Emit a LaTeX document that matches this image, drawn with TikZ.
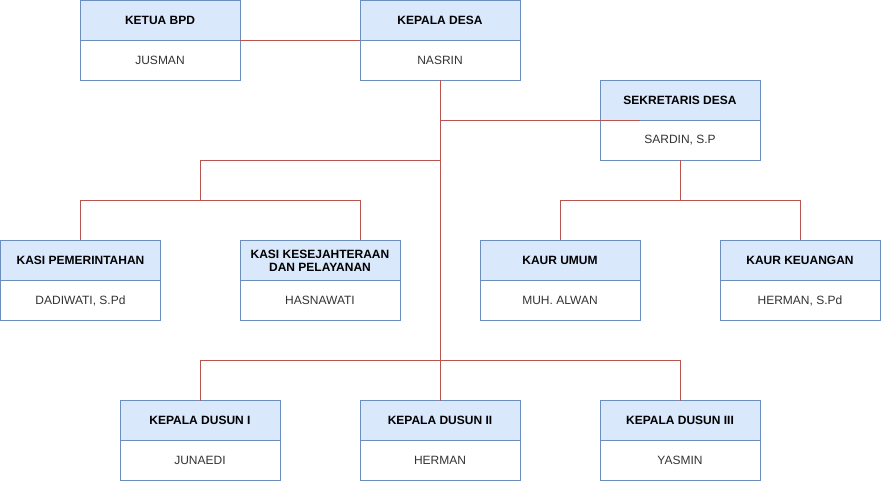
\documentclass[tikz,border=0pt]{standalone}
\usepackage{fontspec}
\setmainfont{Liberation Sans}
\usetikzlibrary{positioning, calc}

\definecolor{headfill}{HTML}{DAE8FC}
\definecolor{headline}{HTML}{6C8EBF}
\definecolor{linkred}{HTML}{B85450}
\definecolor{nametext}{HTML}{333333}

\tikzset{
    head/.style={draw=headline, fill=headfill, line width=1pt, minimum width=160pt, minimum height=40pt,
        inner sep=0pt, outer sep=0pt, align=center, font=\fontsize{12}{13}\selectfont\bfseries},
    body/.style={draw=headline, fill=white, line width=1pt, minimum width=160pt, minimum height=40pt,
        inner sep=0pt, outer sep=0pt, text=nametext, font=\fontsize{12}{13}\selectfont},
    link/.style={draw=linkred, line width=1pt},
}

\begin{document}
\begin{tikzpicture}[x=1pt, y=-1pt]
    \useasboundingbox (0, 0) rectangle (881, 481);

    % top row
    \node [head] (bpd) at (160, 20.5) {KETUA BPD};
    \node [body, below=0pt of bpd] (bpd-b) {JUSMAN};
    \node [head] (desa) at (440, 20.5) {KEPALA DESA};
    \node [body, below=0pt of desa] (desa-b) {NASRIN};
    \node [head] (sek) at (680, 100.5) {SEKRETARIS DESA};
    \node [body, below=0pt of sek] (sek-b) {SARDIN, S.P};

    % kasi dan kaur
    \node [head] (kasi1) at (80.5, 260.5) {KASI PEMERINTAHAN};
    \node [body, below=0pt of kasi1] (kasi1-b) {DADIWATI, S.Pd};
    \node [head] (kasi2) at (320, 260.5) {KASI KESEJAHTERAAN\\DAN PELAYANAN};
    \node [body, below=0pt of kasi2] (kasi2-b) {HASNAWATI};
    \node [head] (kaur1) at (560, 260.5) {KAUR UMUM};
    \node [body, below=0pt of kaur1] (kaur1-b) {MUH. ALWAN};
    \node [head] (kaur2) at (800, 260.5) {KAUR KEUANGAN};
    \node [body, below=0pt of kaur2] (kaur2-b) {HERMAN, S.Pd};

    % kepala dusun
    \node [head] (dusun1) at (200, 420.5) {KEPALA DUSUN I};
    \node [body, below=0pt of dusun1] (dusun1-b) {JUNAEDI};
    \node [head] (dusun2) at (440, 420.5) {KEPALA DUSUN II};
    \node [body, below=0pt of dusun2] (dusun2-b) {HERMAN};
    \node [head] (dusun3) at (680, 420.5) {KEPALA DUSUN III};
    \node [body, below=0pt of dusun3] (dusun3-b) {YASMIN};

    % garis
    \draw [link] (bpd.south east) -- (desa.south west);
    \draw [link] (desa-b.south) -- (dusun2.north);
    \draw [link] (desa-b.south |- sek.south) -- ($(sek.south)!0.5!(sek.south west)$);

    \coordinate (kasi-fork) at ($(kasi1.north)!0.5!(kasi2.north) + (0, -40)$);
    \draw [link] (kasi1.north) |- (kasi-fork) -| ($(kasi2.north)!0.5!(kasi2.north east)$);
    \draw [link] (kasi-fork) -- ++(0, -40) -| (desa-b.south);

    \draw [link] (kaur1.north) -- ++(0, -40) -| (kaur2.north);
    \draw [link] (sek-b.south) -- ++(0, 40);

    \draw [link] (dusun1.north) -- ++(0, -40) -| (dusun3.north);
\end{tikzpicture}
\end{document}
